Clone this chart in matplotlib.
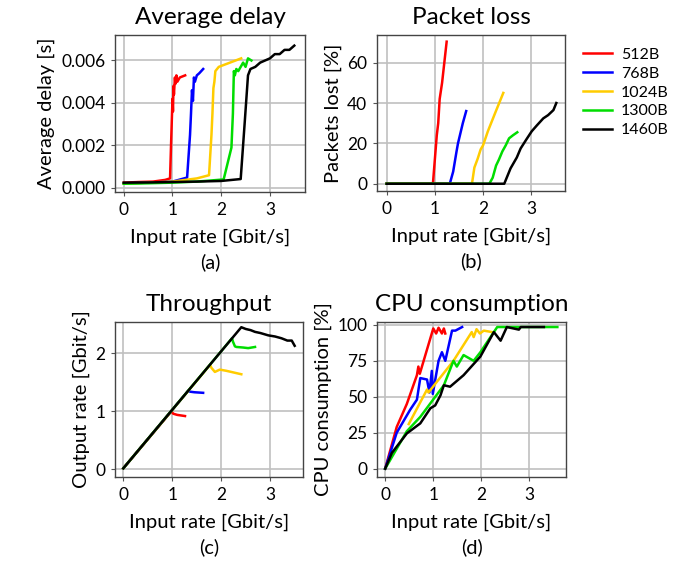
import matplotlib
matplotlib.use("Agg")
import matplotlib.pyplot as plt

plt.rcParams['font.family'] = ['Lato', 'DejaVu Sans']

sizes = ["512B", "768B", "1024B", "1300B", "1460B"]
colors = ["#ff0000", "#0000ff", "#ffcc00", "#00dd00", "#000000"]

# === (a) average delay [s] ===
delay_x = [
    [0, 0.3, 0.6, 0.85, 0.95, 0.97, 1.0, 1.01, 1.02, 1.03, 1.05, 1.06, 1.08, 1.1, 1.15, 1.26],
    [0, 0.5, 1.0, 1.3, 1.36, 1.38, 1.4, 1.42, 1.44, 1.46, 1.5, 1.55, 1.63],
    [0, 0.5, 1.0, 1.5, 1.75, 1.8, 1.82, 1.84, 1.86, 1.88, 1.95, 2.41],
    [0, 0.5, 1.0, 1.5, 2.05, 2.21, 2.24, 2.26, 2.28, 2.31, 2.35, 2.45, 2.5, 2.55, 2.62],
    [0, 0.5, 1.0, 1.5, 2.0, 2.4, 2.48, 2.55, 2.6, 2.7, 2.8, 2.9, 3.0, 3.1, 3.2, 3.3, 3.4, 3.5],
]
delay_y = [
    [0.00025, 0.00028, 0.0003, 0.00038, 0.00045, 0.002, 0.0042, 0.0036, 0.0048, 0.0044, 0.0052, 0.0049, 0.0053, 0.005, 0.0052, 0.0053],
    [0.00022, 0.00025, 0.0003, 0.00049, 0.0025, 0.0035, 0.0046, 0.0041, 0.0052, 0.005, 0.0053, 0.0054, 0.0056],
    [0.0002, 0.00025, 0.0003, 0.00045, 0.0006, 0.0025, 0.0035, 0.0047, 0.005, 0.0055, 0.0057, 0.0061],
    [0.0002, 0.00022, 0.00025, 0.0003, 0.0004, 0.0019, 0.0035, 0.0055, 0.0053, 0.0056, 0.0055, 0.0059, 0.0057, 0.0061, 0.006],
    [0.00025, 0.00026, 0.00028, 0.0003, 0.00033, 0.00042, 0.003, 0.0053, 0.0056, 0.0057, 0.0059, 0.0060, 0.0061, 0.0063, 0.0063, 0.0065, 0.0065, 0.0067],
]

# === (b) packet loss [%] ===
loss_x = [
    [0, 0.45, 0.96, 1.0, 1.04, 1.07, 1.1, 1.15, 1.245],
    [0, 0.6, 1.31, 1.38, 1.45, 1.48, 1.52, 1.58, 1.65],
    [0, 1.0, 1.77, 1.82, 1.89, 1.95, 2.0, 2.1, 2.25, 2.42],
    [0, 1.0, 2.13, 2.2, 2.27, 2.33, 2.4, 2.47, 2.54, 2.62, 2.71],
    [0, 1.0, 2.0, 2.44, 2.57, 2.7, 2.78, 2.9, 3.01, 3.12, 3.25, 3.35, 3.46, 3.52],
]
loss_y = [
    [0, 0, 0, 12, 24, 30, 42, 50, 70.4],
    [0, 0, 0, 6, 16, 20, 24, 30, 36],
    [0, 0, 0, 8, 12.5, 17, 19, 26, 35, 45],
    [0, 0, 0, 3, 9, 12, 16, 19, 22.5, 24, 25.5],
    [0, 0, 0, 0, 7.6, 13, 17.5, 22, 26, 29, 32.4, 34, 36.5, 40],
]

# === (c) throughput [Gbit/s] ===
thr_x = [
    [0, 0.98, 1.02, 1.1, 1.26],
    [0, 1.33, 1.36, 1.45, 1.63],
    [0, 1.77, 1.8, 1.87, 1.97, 2.1, 2.41],
    [0, 2.22, 2.24, 2.28, 2.31, 2.45, 2.55, 2.69],
    [0, 2.41, 2.5, 2.6, 2.69, 2.8, 2.96, 3.1, 3.23, 3.35, 3.44, 3.5],
]
thr_y = [
    [0.02, 1.0, 0.96, 0.94, 0.92],
    [0.02, 1.36, 1.34, 1.33, 1.32],
    [0.02, 1.8, 1.75, 1.68, 1.72, 1.70, 1.64],
    [0.02, 2.26, 2.2, 2.12, 2.11, 2.1, 2.09, 2.11],
    [0.02, 2.45, 2.42, 2.4, 2.37, 2.35, 2.31, 2.29, 2.26, 2.22, 2.22, 2.13],
]

# === (d) CPU consumption [%] ===
cpu_x = [
    [0, 0.24, 0.45, 0.66, 0.69, 0.72, 1.0, 1.06, 1.11, 1.18, 1.22, 1.25],
    [0, 0.24, 0.52, 0.66, 0.73, 0.87, 0.92, 0.97, 0.99, 1.11, 1.18, 1.25, 1.39, 1.46, 1.6],
    [0.49, 0.87, 0.9, 1.42, 1.8, 1.84, 1.9, 1.97, 2.05, 2.22],
    [0, 0.45, 0.73, 1.22, 1.42, 1.49, 1.63, 1.84, 1.98, 2.22, 2.33, 3.58],
    [0, 0.14, 0.45, 0.73, 0.94, 1.04, 1.15, 1.22, 1.35, 1.63, 1.98, 2.26, 2.4, 2.53, 2.78, 2.82, 3.3],
]
cpu_y = [
    [0, 29, 45, 65, 71, 66, 97.5, 94, 98, 94, 97.5, 94],
    [0, 25, 41, 48, 63, 62, 53, 68, 52, 75, 81, 75, 96, 96, 98.5],
    [31, 55, 53, 75, 95, 91.5, 97, 94, 96, 95],
    [0, 26, 36, 58, 75, 71, 79, 75, 81, 93, 98.5, 98.5],
    [0, 11, 24.5, 31.5, 42, 44, 51, 58, 57, 65, 78, 95, 89, 98.5, 96.7, 98.5, 98.5],
]

fig = plt.figure(figsize=(6.74, 5.64), dpi=100)
W, H = 674, 564

def make_ax(l, t, w, h):
    return fig.add_axes([l / W, 1 - (t + h) / H, w / W, h / H])

ax_a = make_ax(115, 35, 190, 157)
ax_b = make_ax(377, 35, 188, 156)
ax_c = make_ax(115, 322, 188, 155)
ax_d = make_ax(377, 322, 189, 155)

panels = [
    (ax_a, delay_x, delay_y, "Average delay", "Average delay [s]", "(a)",
     (-0.18, 3.72), (-0.00019, 0.0072), [0, 0.002, 0.004, 0.006], ["0.000", "0.002", "0.004", "0.006"]),
    (ax_b, loss_x, loss_y, "Packet loss", "Packets lost [%]", "(b)",
     (-0.2, 3.7), (-3.6, 73.7), [0, 20, 40, 60], ["0", "20", "40", "60"]),
    (ax_c, thr_x, thr_y, "Throughput", "Output rate [Gbit/s]", "(c)",
     (-0.17, 3.67), (-0.13, 2.54), [0, 1, 2], ["0", "1", "2"]),
    (ax_d, cpu_x, cpu_y, "CPU consumption", "CPU consumption [%]", "(d)",
     (-0.17, 3.76), (-5.8, 102), [0, 25, 50, 75, 100], ["0", "25", "50", "75", "100"]),
]

lines = []
for ax, xs, ys, title, ylabel, tag, xlim, ylim, yt, ytl in panels:
    for i in range(len(sizes)):
        ln, = ax.plot(xs[i], ys[i], color=colors[i], linewidth=1.8, label=sizes[i])
        if ax is ax_b:
            lines.append(ln)
    ax.set_xlim(*xlim)
    ax.set_ylim(*ylim)
    ax.set_xticks([0, 1, 2, 3])
    ax.set_xticklabels(["0", "1", "2", "3"])
    ax.set_yticks(yt)
    ax.set_yticklabels(ytl)
    ax.grid(True, color="#c0c0c0", linewidth=1.2)
    ax.set_axisbelow(True)
    ax.tick_params(labelsize=12.5, length=3, color="#555555", pad=4)
    for s in ax.spines.values():
        s.set_color("#444444")
        s.set_linewidth(1.0)
    ax.set_title(title, fontsize=17.5, pad=8)
    ax.set_ylabel(ylabel, fontsize=14.5, labelpad=4)
    ax.set_xlabel("Input rate [Gbit/s]\n" + tag, fontsize=14.5, labelpad=8, linespacing=1.45)

fig.legend(lines, sizes, loc="upper left", bbox_to_anchor=(577 / W, 1 - 41 / H),
           frameon=False, fontsize=11.5, handlelength=1.8, labelspacing=0.3,
           handletextpad=0.55, borderaxespad=0)

fig.savefig("out.png", dpi=100)
